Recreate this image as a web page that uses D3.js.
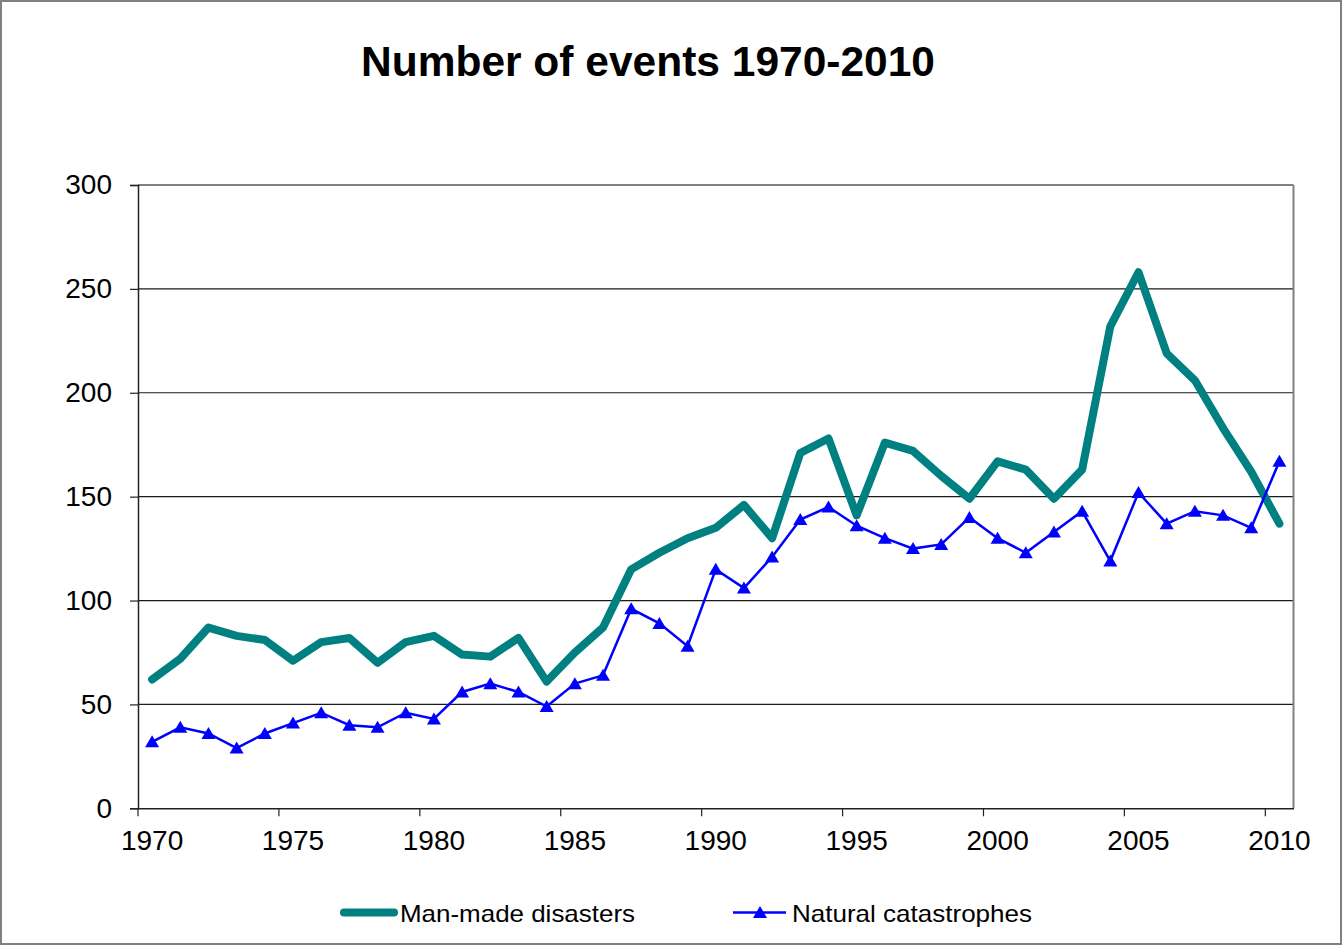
<!DOCTYPE html>
<html>
<head>
<meta charset="utf-8">
<script src="https://cdn.jsdelivr.net/npm/d3@7"></script>
<style>
  body { margin: 0; background: #fff; }
  svg { display: block; font-family: "Liberation Sans", Arial, sans-serif; }
</style>
</head>
<body>
<div id="container"></div>
<script>
const years = d3.range(1970, 2011);
const manMade = [62, 72, 87, 83, 81, 71, 80, 82, 70, 80,
                 83, 74, 73, 82, 61, 75, 87, 115, 123, 130,
                 135, 146, 130, 171, 178, 141, 176, 172, 160, 149,
                 167, 163, 149, 163, 232, 258, 219, 206, 183, 162, 137];
const natural = [32, 39, 36, 29, 36, 41, 46, 40, 39, 46,
                 43, 56, 60, 56, 49, 60, 64, 96, 89, 78,
                 115, 106, 121, 139, 145, 136, 130, 125, 127, 140,
                 130, 123, 133, 143, 119, 152, 137, 143, 141, 135, 167];
const yTicks = [0, 50, 100, 150, 200, 250, 300];
const seriesNames = ["Man-made disasters", "Natural catastrophes"];

const width = 1342, height = 945;
const plotLeft = 138, plotRight = 1293.5, plotTop = 185, plotBottom = 808.3;

const svg = d3.create("svg")
    .attr("width", width)
    .attr("height", height);

// outer chart border
svg.append("rect")
    .attr("x", 1).attr("y", 1)
    .attr("width", width - 2).attr("height", height - 2)
    .attr("fill", "#fff")
    .attr("stroke", "#808080")
    .attr("stroke-width", 2);

svg.append("text")
    .attr("x", 648).attr("y", 76)
    .attr("text-anchor", "middle")
    .style("font-size", "42.5px")
    .style("font-weight", "bold")
    .text("Number of events 1970-2010");

const x = d3.scaleBand().domain(years).range([plotLeft, plotRight]);
const bw = x.bandwidth();
const px = d => x(d) + bw / 2;
const y = d3.scaleLinear().domain([0, 300]).range([plotBottom, plotTop]);

// gridlines
svg.append("g")
    .selectAll("line")
    .data(yTicks.filter(d => d > 0))
    .join("line")
    .attr("x1", plotLeft).attr("x2", plotRight)
    .attr("y1", d => y(d)).attr("y2", d => y(d))
    .attr("stroke", d => d === 300 ? "#808080" : "#1a1a1a")
    .attr("stroke-width", d => d === 300 ? 2 : 1.2);

// right border of plot area
svg.append("line")
    .attr("x1", plotRight).attr("x2", plotRight)
    .attr("y1", plotTop).attr("y2", plotBottom)
    .attr("stroke", "#808080")
    .attr("stroke-width", 2);

// y axis
const yAxis = svg.append("g")
    .attr("transform", `translate(${plotLeft},0)`)
    .call(d3.axisLeft(y).tickValues(yTicks).tickSize(8).tickPadding(18));
yAxis.select(".domain").attr("stroke", "#222").attr("stroke-width", 1.5);
yAxis.selectAll(".tick line").attr("stroke", "#222").attr("stroke-width", 1.2);
yAxis.selectAll(".tick text")
    .attr("fill", "#000")
    .style("font-size", "28px")
    .style("font-family", "'Liberation Sans', Arial, sans-serif");

// x axis: ticks at band starts, labels centred on the points
const xAxis = svg.append("g")
    .attr("transform", `translate(0,${plotBottom})`)
    .call(d3.axisBottom(x).tickValues(years.filter(d => d % 5 === 0)).tickSize(8).tickSizeOuter(0).tickPadding(14));
xAxis.select(".domain").attr("stroke", "#222").attr("stroke-width", 1.5);
xAxis.selectAll(".tick line")
    .attr("x1", -bw / 2).attr("x2", -bw / 2)
    .attr("stroke", "#222").attr("stroke-width", 1.2);
xAxis.selectAll(".tick text")
    .attr("fill", "#000")
    .style("font-size", "28px")
    .style("font-family", "'Liberation Sans', Arial, sans-serif");

const line = d3.line()
    .x((d, i) => px(years[i]))
    .y(d => y(d));

svg.append("path")
    .datum(manMade)
    .attr("fill", "none")
    .attr("stroke", "#008080")
    .attr("stroke-width", 8)
    .attr("stroke-linejoin", "round")
    .attr("stroke-linecap", "round")
    .attr("d", line);

svg.append("path")
    .datum(natural)
    .attr("fill", "none")
    .attr("stroke", "#0000ff")
    .attr("stroke-width", 2.5)
    .attr("d", line);

const tri = "M0,-6.5L7,5.5L-7,5.5Z";
svg.append("g")
    .selectAll("path")
    .data(natural)
    .join("path")
    .attr("transform", (d, i) => `translate(${px(years[i])},${y(d)})`)
    .attr("d", tri)
    .attr("fill", "#0000ff");

// legend
const legend = svg.append("g");
legend.append("line")
    .attr("x1", 344).attr("x2", 394)
    .attr("y1", 912.5).attr("y2", 912.5)
    .attr("stroke", "#008080")
    .attr("stroke-width", 8)
    .attr("stroke-linecap", "round");
legend.append("text")
    .attr("x", 400).attr("y", 921.5)
    .attr("textLength", 235)
    .attr("lengthAdjust", "spacingAndGlyphs")
    .style("font-size", "24px")
    .text(seriesNames[0]);

legend.append("line")
    .attr("x1", 733).attr("x2", 786)
    .attr("y1", 912.5).attr("y2", 912.5)
    .attr("stroke", "#0000ff")
    .attr("stroke-width", 2.5);
legend.append("path")
    .attr("transform", "translate(760,912.5)")
    .attr("d", tri)
    .attr("fill", "#0000ff");
legend.append("text")
    .attr("x", 792).attr("y", 921.5)
    .attr("textLength", 240)
    .attr("lengthAdjust", "spacingAndGlyphs")
    .style("font-size", "24px")
    .text(seriesNames[1]);

document.getElementById("container").append(svg.node());
</script>
</body>
</html>
